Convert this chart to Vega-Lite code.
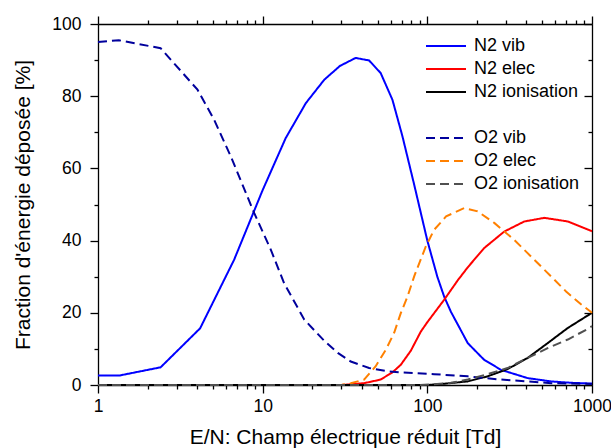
{
  "$schema": "https://vega.github.io/schema/vega-lite/v6.json",
  "width": 494,
  "height": 361,
  "autosize": "none",
  "padding": {"left": 98, "top": 24, "right": 19, "bottom": 63},
  "background": "white",
  "config": {
    "view": {"stroke": null},
    "font": "Liberation Sans",
    "axis": {
      "domainColor": "black",
      "domainWidth": 1.3,
      "tickColor": "black",
      "tickWidth": 1.3,
      "grid": false,
      "labelColor": "black",
      "labelFont": "Liberation Sans",
      "labelFontSize": 17.5,
      "titleFont": "Liberation Sans",
      "titleFontSize": 21,
      "titleFontWeight": "normal",
      "titleColor": "black",
      "labelFlush": false,
      "labelOverlap": false
    },
    "legend": {
      "labelFont": "Liberation Sans",
      "labelFontSize": 18,
      "labelColor": "black"
    }
  },
  "data": {
    "values": [
      {"x": 1, "y": 2.66, "s": "N2 vib"},
      {"x": 1.34, "y": 2.6, "s": "N2 vib"},
      {"x": 2.4, "y": 4.9, "s": "N2 vib"},
      {"x": 4.17, "y": 15.7, "s": "N2 vib"},
      {"x": 6.71, "y": 34.7, "s": "N2 vib"},
      {"x": 10, "y": 54, "s": "N2 vib"},
      {"x": 13.8, "y": 68.4, "s": "N2 vib"},
      {"x": 18.3, "y": 78.1, "s": "N2 vib"},
      {"x": 23.7, "y": 84.6, "s": "N2 vib"},
      {"x": 29.5, "y": 88.4, "s": "N2 vib"},
      {"x": 36.7, "y": 90.6, "s": "N2 vib"},
      {"x": 44.3, "y": 89.9, "s": "N2 vib"},
      {"x": 52.1, "y": 86.4, "s": "N2 vib"},
      {"x": 61.4, "y": 79.0, "s": "N2 vib"},
      {"x": 70.6, "y": 68.9, "s": "N2 vib"},
      {"x": 83.2, "y": 55.5, "s": "N2 vib"},
      {"x": 100, "y": 40, "s": "N2 vib"},
      {"x": 115, "y": 30, "s": "N2 vib"},
      {"x": 126.5, "y": 24.5, "s": "N2 vib"},
      {"x": 139, "y": 20.3, "s": "N2 vib"},
      {"x": 176, "y": 11.6, "s": "N2 vib"},
      {"x": 221, "y": 7.0, "s": "N2 vib"},
      {"x": 280, "y": 4.2, "s": "N2 vib"},
      {"x": 407, "y": 1.9, "s": "N2 vib"},
      {"x": 564, "y": 1.0, "s": "N2 vib"},
      {"x": 750, "y": 0.6, "s": "N2 vib"},
      {"x": 1000, "y": 0.4, "s": "N2 vib"},

      {"x": 1, "y": 0, "s": "N2 elec"},
      {"x": 30, "y": 0, "s": "N2 elec"},
      {"x": 41.3, "y": 0.5, "s": "N2 elec"},
      {"x": 52, "y": 1.5, "s": "N2 elec"},
      {"x": 61.4, "y": 3.5, "s": "N2 elec"},
      {"x": 69, "y": 5.6, "s": "N2 elec"},
      {"x": 79.4, "y": 9.5, "s": "N2 elec"},
      {"x": 91.3, "y": 14.8, "s": "N2 elec"},
      {"x": 100, "y": 17.4, "s": "N2 elec"},
      {"x": 126.5, "y": 23.6, "s": "N2 elec"},
      {"x": 153, "y": 29.0, "s": "N2 elec"},
      {"x": 176, "y": 32.6, "s": "N2 elec"},
      {"x": 221, "y": 37.9, "s": "N2 elec"},
      {"x": 293, "y": 42.5, "s": "N2 elec"},
      {"x": 388, "y": 45.3, "s": "N2 elec"},
      {"x": 514, "y": 46.3, "s": "N2 elec"},
      {"x": 713, "y": 45.3, "s": "N2 elec"},
      {"x": 1000, "y": 42.6, "s": "N2 elec"},

      {"x": 1, "y": 0, "s": "N2 ionisation"},
      {"x": 100, "y": 0, "s": "N2 ionisation"},
      {"x": 130, "y": 0.4, "s": "N2 ionisation"},
      {"x": 176, "y": 1.0, "s": "N2 ionisation"},
      {"x": 232, "y": 2.4, "s": "N2 ionisation"},
      {"x": 307, "y": 4.4, "s": "N2 ionisation"},
      {"x": 407, "y": 7.5, "s": "N2 ionisation"},
      {"x": 538, "y": 11.6, "s": "N2 ionisation"},
      {"x": 713, "y": 15.8, "s": "N2 ionisation"},
      {"x": 1000, "y": 20, "s": "N2 ionisation"},

      {"x": 1, "y": 95.0, "s": "O2 vib"},
      {"x": 1.34, "y": 95.5, "s": "O2 vib"},
      {"x": 2.4, "y": 93.3, "s": "O2 vib"},
      {"x": 4.02, "y": 81.8, "s": "O2 vib"},
      {"x": 5.07, "y": 73.5, "s": "O2 vib"},
      {"x": 6.41, "y": 63.3, "s": "O2 vib"},
      {"x": 8.89, "y": 47.6, "s": "O2 vib"},
      {"x": 11.2, "y": 37.5, "s": "O2 vib"},
      {"x": 13.5, "y": 28.2, "s": "O2 vib"},
      {"x": 17.9, "y": 18.1, "s": "O2 vib"},
      {"x": 23.7, "y": 12.2, "s": "O2 vib"},
      {"x": 28.6, "y": 8.9, "s": "O2 vib"},
      {"x": 34.3, "y": 6.5, "s": "O2 vib"},
      {"x": 44.3, "y": 4.7, "s": "O2 vib"},
      {"x": 57.3, "y": 3.8, "s": "O2 vib"},
      {"x": 69, "y": 3.5, "s": "O2 vib"},
      {"x": 110, "y": 3.0, "s": "O2 vib"},
      {"x": 176, "y": 2.4, "s": "O2 vib"},
      {"x": 280, "y": 1.5, "s": "O2 vib"},
      {"x": 407, "y": 1.0, "s": "O2 vib"},
      {"x": 564, "y": 0.5, "s": "O2 vib"},
      {"x": 1000, "y": 0.3, "s": "O2 vib"},

      {"x": 1, "y": 0, "s": "O2 elec"},
      {"x": 30, "y": 0, "s": "O2 elec"},
      {"x": 34.3, "y": 0.5, "s": "O2 elec"},
      {"x": 41.3, "y": 1.5, "s": "O2 elec"},
      {"x": 48.6, "y": 5.2, "s": "O2 elec"},
      {"x": 56, "y": 9.8, "s": "O2 elec"},
      {"x": 62.8, "y": 14.4, "s": "O2 elec"},
      {"x": 69, "y": 19.9, "s": "O2 elec"},
      {"x": 75.8, "y": 24.5, "s": "O2 elec"},
      {"x": 83.2, "y": 30.1, "s": "O2 elec"},
      {"x": 97.9, "y": 38.4, "s": "O2 elec"},
      {"x": 110, "y": 43, "s": "O2 elec"},
      {"x": 130, "y": 46.7, "s": "O2 elec"},
      {"x": 167.5, "y": 49.0, "s": "O2 elec"},
      {"x": 202, "y": 48.1, "s": "O2 elec"},
      {"x": 255, "y": 44.9, "s": "O2 elec"},
      {"x": 337, "y": 40.2, "s": "O2 elec"},
      {"x": 446, "y": 34.7, "s": "O2 elec"},
      {"x": 564, "y": 30.1, "s": "O2 elec"},
      {"x": 696, "y": 25.9, "s": "O2 elec"},
      {"x": 850, "y": 22.5, "s": "O2 elec"},
      {"x": 1000, "y": 20, "s": "O2 elec"},

      {"x": 1, "y": 0, "s": "O2 ionisation"},
      {"x": 90, "y": 0, "s": "O2 ionisation"},
      {"x": 110, "y": 0.2, "s": "O2 ionisation"},
      {"x": 139, "y": 0.6, "s": "O2 ionisation"},
      {"x": 176, "y": 1.5, "s": "O2 ionisation"},
      {"x": 232, "y": 3.0, "s": "O2 ionisation"},
      {"x": 307, "y": 4.7, "s": "O2 ionisation"},
      {"x": 407, "y": 7.5, "s": "O2 ionisation"},
      {"x": 538, "y": 10.2, "s": "O2 ionisation"},
      {"x": 713, "y": 12.6, "s": "O2 ionisation"},
      {"x": 921, "y": 15.3, "s": "O2 ionisation"},
      {"x": 1000, "y": 16.3, "s": "O2 ionisation"}
    ]
  },
  "layer": [
    {
      "mark": {"type": "line", "strokeWidth": 2},
      "encoding": {
        "x": {
          "field": "x", "type": "quantitative",
          "scale": {"type": "log", "domain": [1, 1000], "nice": false},
          "axis": {
            "orient": "bottom",
            "title": "E/N: Champ électrique réduit [Td]",
            "values": [1,2,3,4,5,6,7,8,9,10,20,30,40,50,60,70,80,90,100,200,300,400,500,600,700,800,900,1000],
            "format": "d",
            "labelExpr": "indexof([1,10,100,1000], datum.value) >= 0 ? datum.label : ''",
            "tickSize": {"condition": {"test": "indexof([1,10,100,1000], datum.value) >= 0", "value": 8}, "value": 4},
            "labelPadding": 4,
            "titlePadding": 12
          }
        },
        "y": {
          "field": "y", "type": "quantitative",
          "scale": {"domain": [0, 100], "nice": false},
          "axis": {
            "orient": "left",
            "title": "Fraction d'énergie déposée [%]",
            "values": [0,10,20,30,40,50,60,70,80,90,100],
            "labelExpr": "datum.value % 20 == 0 ? datum.label : ''",
            "tickSize": {"condition": {"test": "datum.value % 20 == 0", "value": 8}, "value": 4},
            "labelPadding": 9,
            "titlePadding": 18
          }
        },
        "color": {
          "field": "s", "type": "nominal",
          "scale": {
            "domain": ["N2 vib", "N2 elec", "N2 ionisation", " ", "O2 vib", "O2 elec", "O2 ionisation"],
            "range": ["#0000ff", "#ff0000", "#000000", "transparent", "#00009c", "#ff8000", "#505050"]
          },
          "legend": {
            "title": null,
            "orient": "none",
            "legendX": 337,
            "legendY": 11,
            "symbolType": "M-2,0H2",
            "symbolSize": 400,
            "symbolStrokeWidth": 2,
            "labelOffset": 17,
            "rowPadding": 3
          }
        },
        "strokeDash": {
          "field": "s", "type": "nominal",
          "scale": {
            "domain": ["N2 vib", "N2 elec", "N2 ionisation", " ", "O2 vib", "O2 elec", "O2 ionisation"],
            "range": [[1, 0], [1, 0], [1, 0], [1, 0], [9, 5], [9, 5], [9, 5]]
          },
          "legend": {
            "title": null,
            "orient": "none",
            "legendX": 337,
            "legendY": 11,
            "symbolType": "M-2,0H2",
            "symbolSize": 400,
            "symbolStrokeWidth": 2,
            "labelOffset": 17,
            "rowPadding": 3
          }
        }
      }
    },
    {
      "mark": {"type": "line", "opacity": 0},
      "encoding": {
        "x": {
          "field": "x", "type": "quantitative",
          "axis": {
            "orient": "top",
            "title": null,
            "labels": false,
            "values": [1,2,3,4,5,6,7,8,9,10,20,30,40,50,60,70,80,90,100,200,300,400,500,600,700,800,900,1000],
            "tickSize": {"condition": {"test": "indexof([1,10,100,1000], datum.value) >= 0", "value": 8}, "value": 4}
          }
        },
        "y": {
          "field": "y", "type": "quantitative",
          "axis": {
            "orient": "right",
            "title": null,
            "labels": false,
            "values": [0,10,20,30,40,50,60,70,80,90,100],
            "tickSize": {"condition": {"test": "datum.value % 20 == 0", "value": -8}, "value": -4}
          }
        },
        "detail": {"field": "s"}
      }
    }
  ],
  "resolve": {"axis": {"x": "independent", "y": "independent"}}
}
